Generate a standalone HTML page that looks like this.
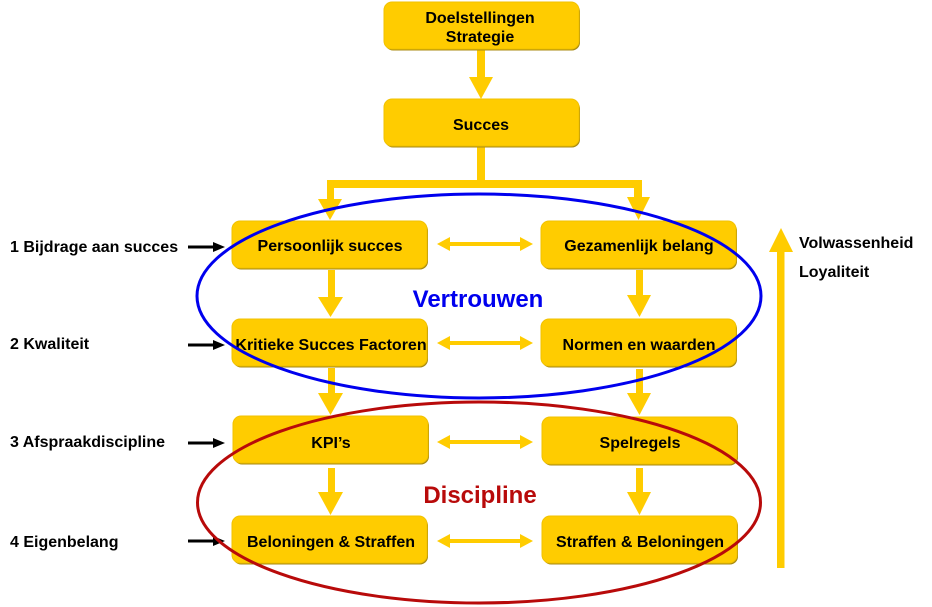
<!DOCTYPE html>
<html><head><meta charset="utf-8"><style>
html,body{margin:0;padding:0;background:#fff;}
svg{display:block;}
text{font-family:"Liberation Sans",Arial,sans-serif;font-weight:bold;}
</style></head><body>
<svg width="932" height="607" viewBox="0 0 932 607" xmlns="http://www.w3.org/2000/svg">
<defs>
<g id="box">
<rect x="1" y="1.5" width="195" height="47" rx="8" fill="#a88a10"/>
<rect x="0" y="0" width="195" height="47" rx="8" fill="#FFCC00" stroke="#f2c200" stroke-width="1"/>
</g>
</defs>

<!-- top connectors -->
<rect x="477" y="49" width="8" height="28" fill="#FFCC00"/>
<polygon points="469,77 493,77 481,99" fill="#FFCC00"/>
<rect x="477" y="146" width="8" height="38" fill="#FFCC00"/>
<rect x="327" y="180" width="315" height="8" fill="#FFCC00"/>
<rect x="327" y="180" width="7" height="20" fill="#FFCC00"/>
<polygon points="318,199 342,199 330,220" fill="#FFCC00"/>
<rect x="634" y="180" width="8" height="18" fill="#FFCC00"/>
<polygon points="627,197 650,197 638.5,220" fill="#FFCC00"/>

<!-- vertical arrows between rows -->
<g fill="#FFCC00">
<rect x="328" y="270" width="7" height="28"/><polygon points="318,297 343,297 330.5,317"/>
<rect x="328" y="368" width="7" height="26"/><polygon points="318,393 343,393 330.5,415"/>
<rect x="328" y="468" width="7" height="25"/><polygon points="318,492 343,492 330.5,515"/>
<rect x="636" y="270" width="7" height="26"/><polygon points="627,295 651,295 639.5,317"/>
<rect x="636" y="369" width="7" height="25"/><polygon points="627,393 651,393 639.5,415"/>
<rect x="636" y="468" width="7" height="25"/><polygon points="627,492 651,492 639.5,515"/>
</g>

<!-- double arrows -->
<g fill="#FFCC00">
<g transform="translate(0,244)"><rect x="446" y="-2" width="78" height="4"/><polygon points="437,0 450,-7 450,7"/><polygon points="533,0 520,-7 520,7"/></g>
<g transform="translate(0,343)"><rect x="446" y="-2" width="78" height="4"/><polygon points="437,0 450,-7 450,7"/><polygon points="533,0 520,-7 520,7"/></g>
<g transform="translate(0,442)"><rect x="446" y="-2" width="78" height="4"/><polygon points="437,0 450,-7 450,7"/><polygon points="533,0 520,-7 520,7"/></g>
<g transform="translate(0,541)"><rect x="446" y="-2" width="78" height="4"/><polygon points="437,0 450,-7 450,7"/><polygon points="533,0 520,-7 520,7"/></g>
</g>

<!-- big right arrow -->
<rect x="777" y="250" width="7.5" height="318" fill="#FFCC00"/>
<polygon points="769,252 793,252 781,228" fill="#FFCC00"/>

<!-- black arrows -->
<g fill="#000">
<g transform="translate(0,247)"><rect x="188" y="-1.5" width="26" height="3"/><polygon points="225,0 213,-5 213,5"/></g>
<g transform="translate(0,345)"><rect x="188" y="-1.5" width="26" height="3"/><polygon points="225,0 213,-5 213,5"/></g>
<g transform="translate(0,443)"><rect x="188" y="-1.5" width="26" height="3"/><polygon points="225,0 213,-5 213,5"/></g>
<g transform="translate(0,541)"><rect x="188" y="-1.5" width="26" height="3"/><polygon points="225,0 213,-5 213,5"/></g>
</g>

<!-- boxes -->
<use href="#box" x="384" y="2"/>
<use href="#box" x="384" y="99"/>
<use href="#box" x="232" y="221"/>
<use href="#box" x="541" y="221"/>
<use href="#box" x="232" y="319"/>
<use href="#box" x="541" y="319"/>
<use href="#box" x="233" y="416"/>
<use href="#box" x="542" y="417"/>
<use href="#box" x="232" y="516"/>
<use href="#box" x="542" y="516"/>

<!-- box texts -->
<g font-size="16" fill="#000" text-anchor="middle">
<text x="480" y="23">Doelstellingen</text>
<text x="480" y="42">Strategie</text>
<text x="481" y="130">Succes</text>
<text x="330" y="251">Persoonlijk succes</text>
<text x="639" y="251">Gezamenlijk belang</text>
<text x="331" y="350">Kritieke Succes Factoren</text>
<text x="639" y="350">Normen en waarden</text>
<text x="331" y="448">KPI’s</text>
<text x="640" y="448">Spelregels</text>
<text x="331" y="547">Beloningen &amp; Straffen</text>
<text x="640" y="547">Straffen &amp; Beloningen</text>
</g>

<!-- ellipses -->
<ellipse cx="479" cy="296" rx="282" ry="102" fill="none" stroke="#0000ee" stroke-width="3"/>
<ellipse cx="479" cy="502.5" rx="281.5" ry="100.5" fill="none" stroke="#b80a0a" stroke-width="3"/>

<text x="478" y="307" font-size="24" fill="#0000ee" text-anchor="middle">Vertrouwen</text>
<text x="480" y="503" font-size="24" fill="#b80a0a" text-anchor="middle">Discipline</text>

<!-- left labels -->
<g font-size="16" fill="#000">
<text x="10" y="252">1 Bijdrage aan succes</text>
<text x="10" y="349">2 Kwaliteit</text>
<text x="10" y="447">3 Afspraakdiscipline</text>
<text x="10" y="547">4 Eigenbelang</text>
<text x="799" y="248">Volwassenheid</text>
<text x="799" y="277">Loyaliteit</text>
</g>
</svg>
</body></html>
